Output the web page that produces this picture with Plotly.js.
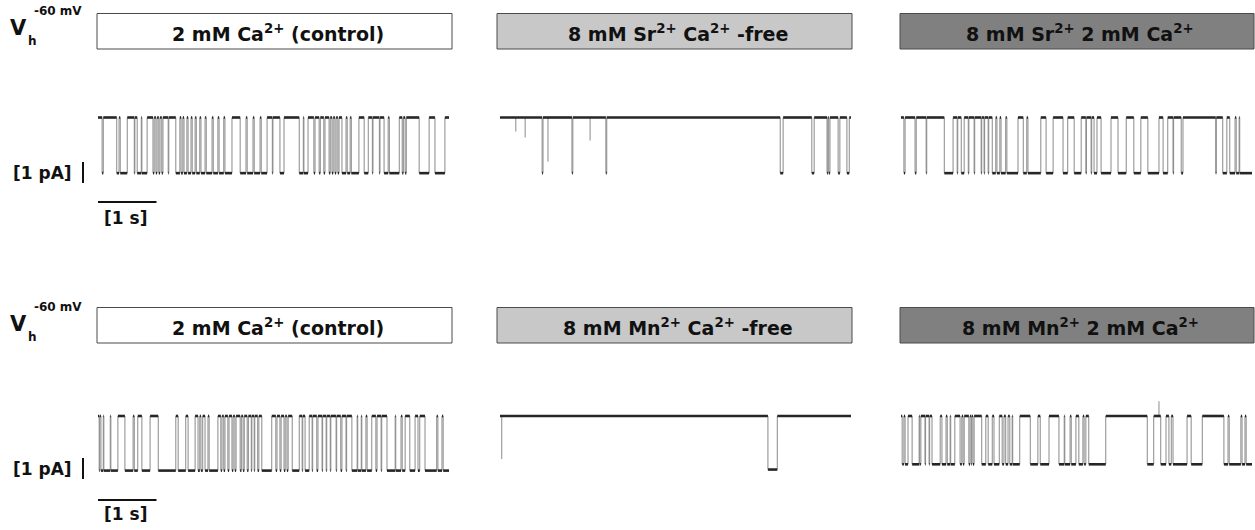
<!DOCTYPE html>
<html>
<head>
<meta charset="utf-8">
<script src="https://cdn.plot.ly/plotly-3.0.1.min.js"></script>
<style>html,body{margin:0;padding:0;background:#fff;}#chart{width:1255px;height:530px;}</style>
</head>
<body>
<div id="chart"></div>
<script>
// ---------- DATA (seconds, pA) ----------
// Panel titles
const panelTitles = [
  "2 mM Ca<sup>2+</sup> (control)",
  "8 mM Sr<sup>2+</sup> Ca<sup>2+</sup> -free",
  "8 mM Sr<sup>2+</sup> 2 mM Ca<sup>2+</sup>",
  "2 mM Ca<sup>2+</sup> (control)",
  "8 mM Mn<sup>2+</sup> Ca<sup>2+</sup> -free",
  "8 mM Mn<sup>2+</sup> 2 mM Ca<sup>2+</sup>"
];
// single-channel amplitude of each record (pA, inward = downward)
const amplitudes = [2.65, 2.65, 2.65, 2.6, 2.55, 2.3];
const recordLength = 6.0; // s

// open intervals [start, end] in s read from each record
const caControlOpensA = [[0.07,0.09],[0.32,0.36],[0.38,0.50],[0.62,0.63],[0.67,0.74],[0.75,0.84],[0.94,0.96],[0.99,1.01],[1.04,1.06],[1.09,1.11],[1.20,1.21],[1.33,1.40],[1.42,1.45],[1.47,1.52],[1.54,1.59],[1.61,1.66],[1.68,1.74],[1.76,1.83],[1.85,1.95],[1.97,2.05],[2.07,2.15],[2.17,2.29],[2.43,2.53],[2.55,2.65],[2.67,2.77],[2.79,2.89],[2.98,2.99],[3.11,3.18],[3.44,3.51],[3.52,3.59],[3.69,3.71],[3.78,3.80],[3.86,3.88],[3.95,3.97],[4.00,4.02],[4.05,4.07],[4.10,4.12],[4.17,4.24],[4.26,4.31],[4.33,4.46],[4.55,4.62],[4.69,4.70],[4.81,4.82],[4.89,4.96],[4.98,5.15],[5.20,5.22],[5.25,5.27],[5.49,5.66],[5.76,5.93]];
const srFreeOpens = [[0.72,0.735],[1.23,1.245],[1.81,1.825],[4.79,4.84],[5.33,5.37],[5.59,5.605],[5.62,5.64],[5.78,5.81],[5.93,5.97]];
const srCaOpens = [[0.05,0.07],[0.24,0.26],[0.43,0.44],[0.74,0.89],[0.96,0.97],[1.03,1.08],[1.15,1.16],[1.25,1.26],[1.37,1.38],[1.42,1.43],[1.49,1.50],[1.56,1.62],[1.64,1.69],[1.71,1.79],[1.81,2.00],[2.09,2.15],[2.17,2.39],[2.48,2.60],[2.77,2.85],[2.96,3.08],[3.16,3.17],[3.25,3.26],[3.30,3.35],[3.42,3.59],[3.71,3.85],[3.98,4.10],[4.22,4.41],[4.48,4.56],[4.65,4.66],[4.79,4.82],[5.38,5.39],[5.50,5.57],[5.62,5.71],[5.73,5.78],[5.79,6.00]];
const caControlOpensB = [[0.02,0.03],[0.05,0.09],[0.10,0.21],[0.22,0.34],[0.46,0.60],[0.62,0.68],[0.75,0.89],[1.03,1.33],[1.37,1.50],[1.54,1.66],[1.71,1.74],[1.76,1.79],[1.83,1.88],[1.90,2.05],[2.10,2.12],[2.15,2.17],[2.22,2.24],[2.29,2.31],[2.34,2.36],[2.43,2.45],[2.48,2.50],[2.55,2.57],[2.62,2.63],[2.67,2.68],[2.73,2.75],[2.80,2.97],[3.04,3.06],[3.11,3.13],[3.18,3.20],[3.23,3.25],[3.32,3.44],[3.49,3.50],[3.54,3.61],[3.66,3.67],[3.74,3.76],[3.83,3.84],[3.90,3.91],[3.97,3.98],[4.07,4.08],[4.15,4.17],[4.24,4.25],[4.34,4.43],[4.44,4.50],[4.51,4.58],[4.60,4.68],[4.75,4.77],[4.84,4.85],[4.94,5.08],[5.09,5.18],[5.20,5.25],[5.33,5.42],[5.47,5.50],[5.59,5.79],[5.81,5.88],[5.90,6.00]];
const mnFreeOpens = [[4.58,4.74]];
const mnCaOpens = [[0.02,0.05],[0.07,0.12],[0.19,0.31],[0.32,0.34],[0.41,0.42],[0.48,0.49],[0.53,0.67],[0.70,0.77],[0.79,0.84],[0.85,0.92],[1.01,1.04],[1.06,1.08],[1.16,1.18],[1.20,1.21],[1.23,1.25],[1.38,1.45],[1.49,1.56],[1.59,1.68],[1.73,1.76],[1.79,1.83],[1.86,1.90],[1.91,2.03],[2.21,2.34],[2.38,2.53],[2.70,2.79],[2.80,2.89],[2.91,2.99],[3.04,3.11],[3.13,3.16],[3.21,3.50],[4.21,4.32],[4.44,4.53],[4.58,4.62],[4.65,4.89],[4.96,5.15],[5.52,5.59],[5.61,5.81],[5.83,5.88],[5.90,6.00]];

// brief partial events: time (s) and depth (pA)
const srFreeFlickerTimes = [0.27, 0.43, 0.82, 1.54];
const srFreeFlickerDepths = [0.67, 0.95, 2.1, 1.1];
const mnFreeFlickerTimes = [0.03];
const mnFreeFlickerDepths = [2.05];
const mnCaFlickerTimes = [4.41];
const mnCaFlickerDepths = [-0.7];

// scale bars
const scaleTime = 1;   // s
const scaleCurrent = 1; // pA

const panelOpens = [caControlOpensA, srFreeOpens, srCaOpens, caControlOpensB, mnFreeOpens, mnCaOpens];
const panelFlickT = [[], srFreeFlickerTimes, [], [], mnFreeFlickerTimes, mnCaFlickerTimes];
const panelFlickD = [[], srFreeFlickerDepths, [], [], mnFreeFlickerDepths, mnCaFlickerDepths];

// ---------- LAYOUT GEOMETRY (pixels) ----------
const W = 1255, H = 530;
const pxPerS = 58.5, pxPerPA = 21;
const colT0 = [98, 500, 901];          // pixel of t = 0
const colDom = [[72, 455], [494, 857], [895, 1255]];
const rowClosed = [117.5, 416];         // pixel of 0 pA
const rowDom = [[96, 214], [394, 512]];
const boxX = [[97, 452], [497, 852], [900, 1254]];
const boxY = [[13.5, 49], [307.5, 343]];
const boxFill = ["#ffffff", "#c8c8c8", "#808080"];

const px2x = p => p / W;
const px2y = p => 1 - p / H;

const traces = [];
const layout = {
  width: W, height: H, margin: {l:0, r:0, t:0, b:0},
  paper_bgcolor: "#fff", plot_bgcolor: "rgba(0,0,0,0)",
  showlegend: false, shapes: [], annotations: []
};

for (let i = 0; i < 6; i++) {
  const r = Math.floor(i / 3), c = i % 3;
  const n = i + 1;
  const xa = n === 1 ? "x" : "x" + n, ya = n === 1 ? "y" : "y" + n;
  const xk = n === 1 ? "xaxis" : "xaxis" + n, yk = n === 1 ? "yaxis" : "yaxis" + n;
  const [L, R] = colDom[c], [T, B] = rowDom[r];
  layout[xk] = {domain: [px2x(L), px2x(R)], range: [(L - colT0[c]) / pxPerS, (R - colT0[c]) / pxPerS],
    visible: false, fixedrange: true, anchor: ya};
  layout[yk] = {domain: [px2y(B), px2y(T)], range: [-(B - rowClosed[r]) / pxPerPA, (rowClosed[r] - T) / pxPerPA],
    visible: false, fixedrange: true, anchor: xa};

  const amp = amplitudes[i];
  const opens = panelOpens[i];
  const lx = [], ly = [];
  const vx = [], vy = [];
  let cur = 0;
  opens.forEach(([s, e]) => {
    if (s > cur) { lx.push(cur, s, null); ly.push(0, 0, null); }
    lx.push(s, e, null); ly.push(-amp, -amp, null);
    vx.push(s, s, null); vy.push(0, -amp, null);
    if (e < recordLength) { vx.push(e, e, null); vy.push(-amp, 0, null); }
    cur = e;
  });
  if (cur < recordLength) { lx.push(cur, recordLength, null); ly.push(0, 0, null); }
  panelFlickT[i].forEach((t, k) => { vx.push(t, t, null); vy.push(0, -panelFlickD[i][k], null); });

  traces.push({x: vx, y: vy, xaxis: xa, yaxis: ya, mode: "lines", type: "scatter",
    line: {color: "#8a8a8a", width: 1}, hoverinfo: "skip", connectgaps: false});
  traces.push({x: lx, y: ly, xaxis: xa, yaxis: ya, mode: "lines", type: "scatter",
    line: {color: "#262626", width: 2.6}, hoverinfo: "skip", connectgaps: false});

  // box + title
  const [bx0, bx1] = boxX[c], [by0, by1] = boxY[r];
  layout.shapes.push({type: "rect", xref: "paper", yref: "paper",
    x0: px2x(bx0), x1: px2x(bx1), y0: px2y(by1), y1: px2y(by0),
    fillcolor: boxFill[c], line: {color: "#4a4a4a", width: 1}, layer: "below"});
  layout.annotations.push({xref: "paper", yref: "paper", x: px2x((bx0 + bx1) / 2 + 3), y: px2y((by0 + by1) / 2 + 1.5),
    xanchor: "center", yanchor: "middle", showarrow: false, text: panelTitles[i],
    font: {family: "DejaVu Sans", size: 19, color: "#111", weight: "bold"}});

  // scale bars in first column
  if (c === 0) {
    const yBarS = -(r === 0 ? 202 - rowClosed[0] : 500 - rowClosed[1]) / pxPerPA;
    traces.push({x: [0, scaleTime], y: [yBarS, yBarS], xaxis: xa, yaxis: ya, mode: "lines",
      line: {color: "#111", width: 2}, hoverinfo: "skip"});
    const xBarI = (83 - colT0[0]) / pxPerS;
    const yTop = -(r === 0 ? 162 - rowClosed[0] : 458 - rowClosed[1]) / pxPerPA;
    traces.push({x: [xBarI, xBarI], y: [yTop, yTop - scaleCurrent], xaxis: xa, yaxis: ya, mode: "lines",
      line: {color: "#111", width: 2}, hoverinfo: "skip"});

    const off = r === 0 ? 0 : 296;
    const fB = {family: "DejaVu Sans", size: 17, color: "#111", weight: "bold"};
    layout.annotations.push({xref: "paper", yref: "paper", x: px2x(11), y: px2y(173 + off), xanchor: "left", yanchor: "middle",
      showarrow: false, text: "[1 pA]", font: fB});
    layout.annotations.push({xref: "paper", yref: "paper", x: px2x(125), y: px2y(218 + off), xanchor: "center", yanchor: "middle",
      showarrow: false, text: "[1 s]", font: fB});
    // V_h -60 mV
    layout.annotations.push({xref: "paper", yref: "paper", x: px2x(8), y: px2y(28 + off), xanchor: "left", yanchor: "middle",
      showarrow: false, text: "V", font: {family: "DejaVu Sans", size: 21, color: "#111", weight: "bold"}});
    layout.annotations.push({xref: "paper", yref: "paper", x: px2x(26), y: px2y(41 + off), xanchor: "left", yanchor: "middle",
      showarrow: false, text: "h", font: {family: "DejaVu Sans", size: 12, color: "#111", weight: "bold"}});
    layout.annotations.push({xref: "paper", yref: "paper", x: px2x(32), y: px2y(11 + off), xanchor: "left", yanchor: "middle",
      showarrow: false, text: "-60 mV", font: {family: "DejaVu Sans", size: 12, color: "#111", weight: "bold"}});
  }
}

Plotly.newPlot("chart", traces, layout, {staticPlot: true, displayModeBar: false});
</script>
</body>
</html>
